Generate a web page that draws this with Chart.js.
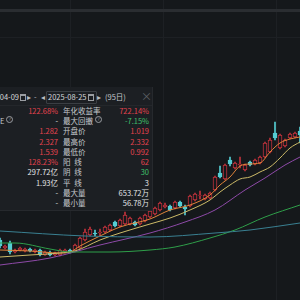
<!DOCTYPE html>
<html>
<head>
<meta charset="utf-8">
<script src="https://cdn.jsdelivr.net/npm/chart.js@4.4.1/dist/chart.umd.min.js"></script>
<style>
    html, body { margin: 0; padding: 0; background: #15181b; }
    #wrap { position: relative; width: 300px; height: 300px; overflow: hidden;
            font-family: "Noto Sans CJK SC", "Noto Sans", sans-serif; }
    #topbar { position: absolute; left: 0; top: 9px; width: 300px; height: 3px; background: #2a2d31; }
    #kline { position: absolute; left: 0; top: 0; }
    #panel { position: absolute; left: 0; top: 87px; width: 152px; height: 123px;
             background: #1c1f23; border-right: 1px solid #26292d; border-bottom: 1px solid #26292d;
             font-size: 7.5px; color: #c3c6ca; }
    #panel span { position: absolute; white-space: nowrap; }
    .hd { top: 5px; line-height: 10px; }
    .row { position: absolute; left: 0; width: 152px; height: 10.3px; line-height: 10.3px; }
    .up { color: #e4434f; }
    .down { color: #3fc06c; }
    .plain { color: #e2e4e6; }
    .qm { display: inline-block; width: 5px; height: 5px; line-height: 5px; border: 1px solid #9a9da2;
          border-radius: 50%; font-size: 4.5px; text-align: center; margin-left: 2px; vertical-align: 1px; color: #9a9da2; }
</style>
</head>
<body>
<div id="wrap">
    <canvas id="kline" width="300" height="300"></canvas>
    <div id="topbar"></div>
    <div id="panel"></div>
</div>
<script>
// candle data (one per trading day, left to right)
const openP = [1.15,1.07,1.12,1.03,1.05,1.04,1.06,1.03,1.05,1.00,
               1.02,1.00,1.00,1.03,1.05,1.04,1.07,1.15,1.20,1.22,
               1.22,1.23,1.25,1.33,1.29,1.31,1.31,1.33,1.31,1.34,
               1.38,1.41,1.45,1.48,1.49,1.47,1.53,1.48,1.49,1.55,
               1.595,1.56,1.57,1.65,1.82,1.76,1.95,1.87,1.90,1.85,
               1.93,1.91,1.92,1.98,2.03,2.22,2.07,2.09,2.17,2.18,2.24];
const closeP = [1.09,1.09,1.03,1.05,1.07,1.06,1.04,1.05,1.00,1.03,
                1.00,1.02,1.05,1.05,1.03,1.10,1.17,1.23,1.26,1.21,
                1.23,1.28,1.30,1.29,1.35,1.40,1.37,1.30,1.37,1.40,
                1.44,1.47,1.52,1.50,1.45,1.53,1.49,1.46,1.59,1.61,
                1.60,1.60,1.62,1.78,1.78,1.90,1.91,1.92,1.91,1.90,
                1.90,1.95,1.98,2.12,2.15,2.17,2.20,2.15,2.21,2.22,2.20];
const highP = [1.17,1.10,1.14,1.06,1.08,1.07,1.07,1.06,1.06,1.04,
               1.04,1.03,1.06,1.06,1.06,1.11,1.18,1.26,1.28,1.25,
               1.26,1.29,1.31,1.34,1.36,1.43,1.38,1.34,1.38,1.41,
               1.45,1.48,1.53,1.52,1.50,1.54,1.54,1.50,1.60,1.62,
               1.64,1.61,1.63,1.79,1.89,1.91,1.98,1.93,1.98,1.91,
               1.94,1.96,1.99,2.13,2.17,2.33,2.21,2.16,2.22,2.23,2.28];
const lowP = [1.07,1.06,1.01,1.02,1.04,1.03,1.03,1.02,0.99,0.995,
              0.99,0.99,0.99,1.02,1.02,1.03,1.06,1.14,1.19,1.19,
              1.19,1.22,1.24,1.28,1.28,1.30,1.30,1.29,1.30,1.33,
              1.37,1.40,1.44,1.47,1.44,1.46,1.48,1.40,1.48,1.54,
              1.56,1.55,1.56,1.64,1.77,1.75,1.89,1.86,1.87,1.84,
              1.89,1.90,1.91,1.97,2.02,2.15,2.06,2.08,2.16,2.17,2.12];

const ma5Days = [0,6,12,14,16,20,24,30,34,38,42,44,46,48,50,52,54,56,58,60];
const ma5 = [1.05,1.04,1.02,1.03,1.09,1.19,1.28,1.36,1.45,1.50,1.60,1.70,1.78,1.89,1.91,1.92,2.03,2.12,2.16,2.18];
const ma10Days = [0,6,12,15,20,24,30,34,38,42,44,46,48,50,52,54,56,58,60];
const ma10 = [0.98,1.00,1.02,1.04,1.15,1.22,1.31,1.37,1.45,1.55,1.63,1.70,1.76,1.78,1.83,1.88,1.97,2.07,2.13];
const ma20Days = [0,10,20,30,37,43,49,53,57,60];
const ma20 = [0.90,0.97,1.10,1.22,1.33,1.45,1.65,1.77,1.90,1.98];
const ma60Days = [0,3,10,14,22,30,35,42,47,53,60];
const ma60 = [1.12,1.12,1.06,1.03,1.03,1.05,1.08,1.17,1.25,1.38,1.50];
const ma120Days = [0,17,30,43,50,60];
const ma120 = [1.24,1.19,1.18,1.22,1.25,1.32];

// faint grid (month separators / price level)
const gridDays = [14, 32.6, 55.2];
const gridPrices = [3.17];

// stats panel
const rangeStart = '2025-04-09';
const rangeEnd = '2025-08-25';
const rangeDays = '(95日)';
const statLabels = ['年化收益率','最大回撤','开盘价','最高价','最低价','阳\u2002线','阴\u2002线','平\u2002线','最大量','最小量'];
const leftValues = ['122.68%','-','1.282','2.327','1.539','128.23%','297.72亿','1.93亿','-','-'];
const leftTones = ['up','plain','up','up','up','up','plain','plain','plain','plain'];
const rightValues = ['722.14%','-7.15%','1.019','2.332','0.992','62','30','3','653.72万','56.78万'];
const rightTones = ['up','down','up','up','up','up','down','plain','plain','plain'];

const colors = {
    up: '#c0323c',
    down: '#55cdd3',
    bg: '#15181b',
    ma5: '#e0843a',
    ma10: '#cdbb68',
    ma20: '#8e4aa8',
    ma60: '#2f9f4a',
    ma120: '#3a8092',
    grid: '#1d2024'
};

function buildPanel() {
    const panel = document.getElementById('panel');
    let html = '';
    html += '<span class="hd" style="right:133px;color:#d4d6d9">' + rangeStart + '</span>';
    html += '<span style="left:20px;top:7px;width:4px;height:4px;border:1px solid #9a9da2;border-top-width:2px"></span>';
    html += '<span class="hd" style="left:27px;color:#b9bcc0">\u25B8</span>';
    html += '<span class="hd" style="left:34px;color:#b9bcc0">-</span>';
    html += '<span class="hd" style="left:41px;color:#b9bcc0">\u25C2</span>';
    html += '<span style="left:46px;top:4px;width:49px;height:11px;border:1px solid #3a3e43;border-radius:1px"></span>';
    html += '<span class="hd" style="left:48px;color:#d4d6d9">' + rangeEnd + '</span>';
    html += '<span style="left:88px;top:7px;width:4px;height:4px;border:1px solid #9a9da2;border-top-width:2px"></span>';
    html += '<span class="hd" style="left:97px;color:#b9bcc0">\u25B8</span>';
    html += '<span class="hd" style="left:105px;color:#c3c6ca">' + rangeDays + '</span>';
    html += '<span style="left:141px;top:3px;font-size:11px;line-height:12px;color:#5e6166">\u00D7</span>';
    html += '<span style="left:0;top:18px;width:152px;height:1px;background:#24272b"></span>';

    statLabels.forEach((label, i) => {
        const top = 18.6 + i * 10.3;
        let extra = '';
        if (i === 1) {
            extra = '<span style="left:0">E<span class="qm">?</span></span>';
            label += '<span class="qm">?</span>';
        }
        html += '<div class="row" style="top:' + top + 'px">' + extra +
            '<span class="' + leftTones[i] + '" style="right:94px">' + leftValues[i] + '</span>' +
            '<span style="left:63px;color:#c6c9cd">' + label + '</span>' +
            '<span class="' + rightTones[i] + '" style="right:3px">' + rightValues[i] + '</span>' +
            '</div>';
    });
    panel.innerHTML = html;
}

function maLine(days, values, color) {
    return {
        type: 'line',
        data: days.map((d, i) => ({ x: d, y: values[i] })),
        borderColor: color,
        borderWidth: 1,
        pointRadius: 0,
        cubicInterpolationMode: 'monotone',
        order: 0
    };
}

function drawChart() {
    const ctx = document.getElementById('kline');
    const isUp = openP.map((o, i) => closeP[i] >= o);

    new Chart(ctx, {
        type: 'bar',
        data: {
            datasets: [
                maLine(ma120Days, ma120, colors.ma120),
                maLine(ma60Days, ma60, colors.ma60),
                maLine(ma20Days, ma20, colors.ma20),
                maLine(ma10Days, ma10, colors.ma10),
                maLine(ma5Days, ma5, colors.ma5),
                {
                    // candle bodies, hollow when up
                    data: openP.map((o, i) => ({ x: i, y: [o, closeP[i]] })),
                    backgroundColor: isUp.map(u => u ? colors.bg : colors.down),
                    borderColor: isUp.map(u => u ? colors.up : colors.down),
                    borderWidth: 1,
                    borderSkipped: false,
                    barThickness: 4,
                    grouped: false,
                    order: 1
                },
                {
                    // wicks
                    data: lowP.map((l, i) => ({ x: i, y: [l, highP[i]] })),
                    backgroundColor: isUp.map(u => u ? colors.up : colors.down),
                    borderWidth: 0,
                    barThickness: 1,
                    grouped: false,
                    order: 2
                }
            ]
        },
        options: {
            responsive: false,
            animation: false,
            layout: { padding: 0 },
            plugins: {
                legend: { display: false },
                tooltip: { enabled: false }
            },
            scales: {
                x: {
                    type: 'linear',
                    min: 0,
                    max: 60,
                    offset: false,
                    ticks: { display: false },
                    border: { display: false },
                    grid: { color: colors.grid, drawTicks: false, offset: false },
                    afterBuildTicks: scale => { scale.ticks = gridDays.map(v => ({ value: v })); }
                },
                y: {
                    min: 0.55,
                    max: 3.55,
                    ticks: { display: false },
                    border: { display: false },
                    grid: { color: colors.grid, drawTicks: false },
                    afterBuildTicks: scale => { scale.ticks = gridPrices.map(v => ({ value: v })); }
                }
            }
        }
    });
}

buildPanel();
drawChart();
</script>
</body>
</html>
